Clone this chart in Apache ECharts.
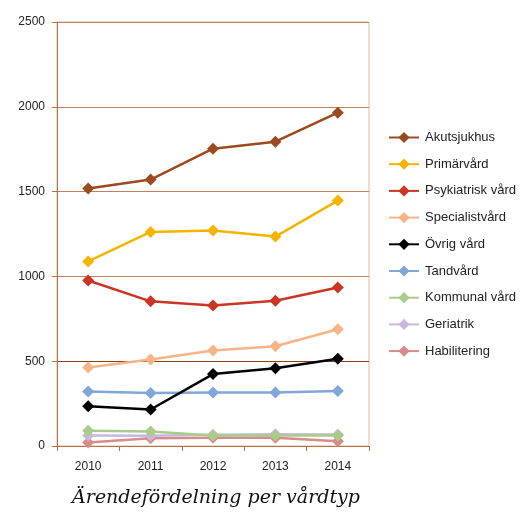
<!DOCTYPE html>
<html><head><meta charset="utf-8">
<script src="https://cdn.jsdelivr.net/npm/echarts@6/dist/echarts.min.js"></script>
<style>html,body{margin:0;padding:0;background:#fff}#c{width:522px;height:513px}</style>
</head><body><div id="c"></div>
<script>
const years = ['2010','2011','2012','2013','2014'];
const seriesNames = ['Akutsjukhus','Primärvård','Psykiatrisk vård','Specialistvård','Övrig vård','Tandvård','Kommunal vård','Geriatrik','Habilitering'];
const akutsjukhus = [1518,1571,1753,1794,1965];
const primarvard = [1088,1262,1271,1235,1447];
const psykiatrisk = [976,853,829,856,935];
const specialist = [463,510,563,588,688];
const ovrig = [235,215,424,459,515];
const tandvard = [322,312,316,316,325];
const kommunal = [90,85,62,62,62];
const geriatrik = [62,60,66,70,68];
const habilitering = [20,46,49,49,28];
const colors = ['#9c4a1e','#f5b400','#cc3524','#f8b486','#000000','#7fa7d9','#a9cd89','#c8b8de','#d98b8b'];
const values = [akutsjukhus,primarvard,psykiatrisk,specialist,ovrig,tandvard,kommunal,geriatrik,habilitering];
const title = 'Ärendefördelning per vårdtyp';

const chart = echarts.init(document.getElementById('c'));
chart.setOption({
  animation:false,
  title:{text:title,left:211,textAlign:'center',top:484,textStyle:{fontFamily:'DejaVu Serif',fontStyle:'italic',fontWeight:'normal',fontSize:19,color:'#111'}},
  grid:{left:57,right:153,top:22,bottom:67,show:true,borderColor:'#e3b9a6',borderWidth:1},
  legend:{orient:'vertical',left:383,top:126,itemWidth:30,itemHeight:14,itemGap:13.7,
    textStyle:{fontFamily:'Liberation Sans',fontSize:13,color:'#222',padding:[0,0,0,1]},data:seriesNames},
  xAxis:{type:'category',data:years,boundaryGap:true,
    axisLine:{lineStyle:{color:'#b86f4c',width:1}},
    axisTick:{show:true,length:5,lineStyle:{color:'#b86f4c'}},
    axisLabel:{fontFamily:'Liberation Sans',fontSize:12,color:'#222',margin:15}},
  yAxis:{type:'value',min:0,max:2500,interval:500,
    axisLine:{show:true,lineStyle:{color:'#b86f4c'}},
    axisTick:{show:true,length:5,lineStyle:{color:'#b86f4c'}},
    axisLabel:{fontFamily:'Liberation Sans',fontSize:12,color:'#222',margin:12,formatter:v=>String(v)},
    splitLine:{lineStyle:{color:['#b86f4c','#8a3e1c','#c08060','#c08060','#c08060','#c08060'],width:1}}},
  series:seriesNames.map((n,i)=>({name:n,type:'line',data:values[i],symbol:'diamond',symbolSize:12,
    lineStyle:{color:colors[i],width:2.5},itemStyle:{color:colors[i]},z:10-i}))
});
</script></body></html>
